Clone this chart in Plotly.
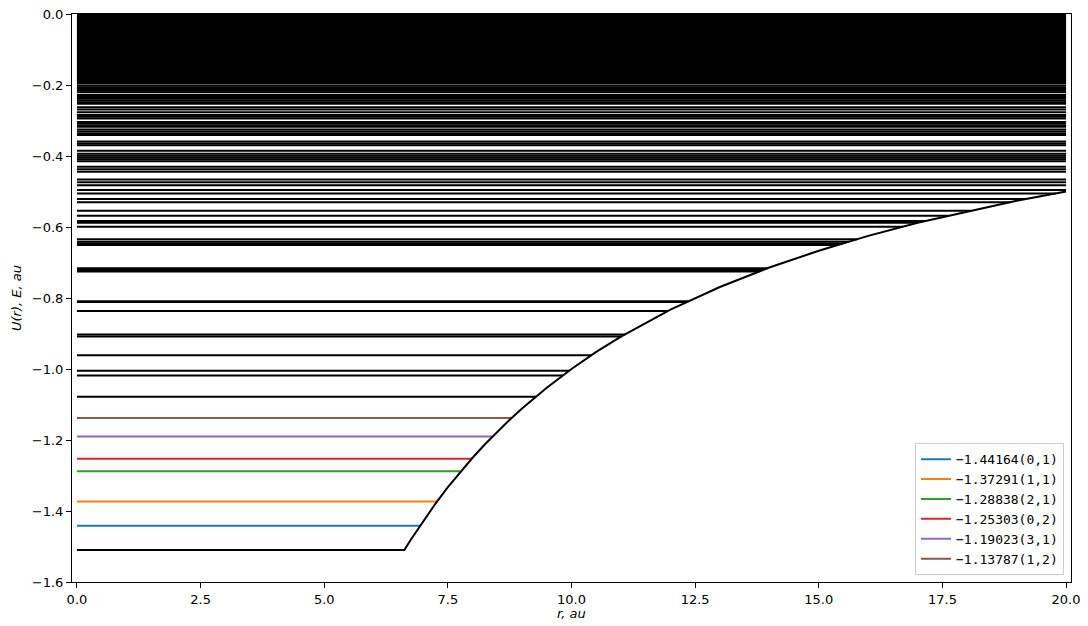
import numpy as np
import plotly.graph_objects as go

# ---- data ----
# potential curve U(r)
pot_r = [0.0, 6.62, 6.75, 7.0, 7.25, 7.5, 7.75, 8.0, 8.25, 8.5, 8.75, 9.0, 9.5, 10.0,
         10.5, 11.0, 11.5, 12.0, 13.0, 14.0, 15.0, 16.0, 17.0, 18.0, 19.0, 20.0]
pot_U = [-1.51, -1.51, -1.481, -1.429, -1.379, -1.333, -1.290, -1.250, -1.212, -1.176,
         -1.143, -1.111, -1.053, -1.000, -0.952, -0.909, -0.870, -0.833, -0.769, -0.714,
         -0.667, -0.625, -0.588, -0.556, -0.526, -0.500]

# lowest levels (coloured, in legend)
colored_E = [-1.44164, -1.37291, -1.28838, -1.25303, -1.19023, -1.13787]
colored_n = [0, 1, 2, 0, 3, 1]
colored_l = [1, 1, 1, 2, 1, 2]
colored_c = ["#1f77b4", "#ff7f0e", "#2ca02c", "#d62728", "#9467bd", "#8c564b"]

# quasi-continuum of levels near the threshold (black, solid band)
dense_E = [
    -0.002, -0.006, -0.010, -0.014, -0.018, -0.022, -0.026, -0.030, -0.034, -0.038,
    -0.042, -0.046, -0.050, -0.054, -0.058, -0.062, -0.066, -0.070, -0.074, -0.078,
    -0.082, -0.086, -0.090, -0.094, -0.098, -0.102, -0.106, -0.110, -0.114, -0.118,
    -0.122, -0.126, -0.130, -0.134, -0.138, -0.142, -0.146, -0.150, -0.154, -0.158,
    -0.162, -0.166, -0.170, -0.174, -0.178, -0.182, -0.186, -0.190, -0.194,
]

# higher levels (black)
black_E = [
    -0.2015, -0.2065, -0.2115, -0.2165, -0.2205,
    -0.2285, -0.2335, -0.2385, -0.2435, -0.2485, -0.2525,
    -0.2625, -0.269, -0.2765,
    -0.2845, -0.2895, -0.2945,
    -0.3045, -0.3095, -0.3145, -0.3175,
    -0.3255, -0.331, -0.3365, -0.3405,
    -0.3595, -0.3645, -0.3695,
    -0.3855,
    -0.394, -0.399, -0.404, -0.409, -0.4145,
    -0.4305, -0.4375, -0.4445,
    -0.4665, -0.474, -0.4825,
    -0.4955, -0.5055, -0.521, -0.530, -0.554, -0.568, -0.583, -0.588, -0.599,
    -0.6345, -0.6415, -0.6465, -0.6505,
    -0.716, -0.721, -0.725,
    -0.8095, -0.8115, -0.8365, -0.9025, -0.9085, -0.9615, -1.005, -1.018, -1.078,
]

x_ticks = [0.0, 2.5, 5.0, 7.5, 10.0, 12.5, 15.0, 17.5, 20.0]
y_ticks = [0.0, -0.2, -0.4, -0.6, -0.8, -1.0, -1.2, -1.4, -1.6]

# ---- build figure ----
rise_r = np.array(pot_r[1:])
rise_U = np.array(pot_U[1:])


def turning_point(E):
    return float(np.interp(E, rise_U, rise_r))


def segments(levels):
    xs, ys = [], []
    for E in levels:
        xs += [0.0, turning_point(E), None]
        ys += [E, E, None]
    return xs, ys


fig = go.Figure()

dx, dy = segments(dense_E)
fig.add_trace(go.Scatter(x=dx, y=dy, mode="lines", line=dict(color="black", width=3),
                         showlegend=False, hoverinfo="skip"))
bx, by = segments(black_E)
fig.add_trace(go.Scatter(x=bx, y=by, mode="lines", line=dict(color="black", width=2),
                         showlegend=False, hoverinfo="skip"))

for E, n, l, c in zip(colored_E, colored_n, colored_l, colored_c):
    label = f"{E:.5f}".replace("-", "\u2212") + f"({n},{l})"
    fig.add_trace(go.Scatter(x=[0.0, turning_point(E)], y=[E, E], mode="lines",
                             line=dict(color=c, width=2), name=label))

fig.add_trace(go.Scatter(x=pot_r, y=pot_U, mode="lines", line=dict(color="black", width=2),
                         showlegend=False))

axis_common = dict(showgrid=False, zeroline=False, showline=True, linecolor="black",
                   linewidth=1, mirror=True, ticks="outside", ticklen=5, tickwidth=1,
                   tickcolor="black", automargin=False, ticklabeloverflow="allow",
                   tickfont=dict(family="DejaVu Sans", size=13, color="black"))

fig.update_layout(
    width=1072, height=618,
    margin=dict(l=64, r=9, t=6, b=44),
    plot_bgcolor="white", paper_bgcolor="white",
    font=dict(family="DejaVu Sans", size=13, color="black"),
    xaxis=dict(range=[-0.1, 20.1], tickvals=x_ticks, ticktext=[f"{v:.1f}" for v in x_ticks],
               **axis_common),
    yaxis=dict(range=[-1.6, 0.0], tickvals=y_ticks,
               ticktext=[f"{v:.1f}".replace("-", "\u2212") for v in y_ticks],
               title=dict(text="<i>U(r), E, au</i>", standoff=7, font=dict(size=13)), **axis_common),
    legend=dict(x=0.993, y=0.012, xanchor="right", yanchor="bottom",
                bgcolor="rgba(255,255,255,0.8)", bordercolor="#cccccc", borderwidth=1,
                font=dict(family="DejaVu Sans Mono", size=13), itemwidth=30,
                tracegroupgap=0),
    annotations=[dict(text="<i>r, au</i>", xref="paper", yref="paper", x=0.5, y=-0.0546,
                      xanchor="center", yanchor="middle", showarrow=False,
                      font=dict(family="DejaVu Sans", size=13, color="black"))],
)

fig.write_html("out.html")
